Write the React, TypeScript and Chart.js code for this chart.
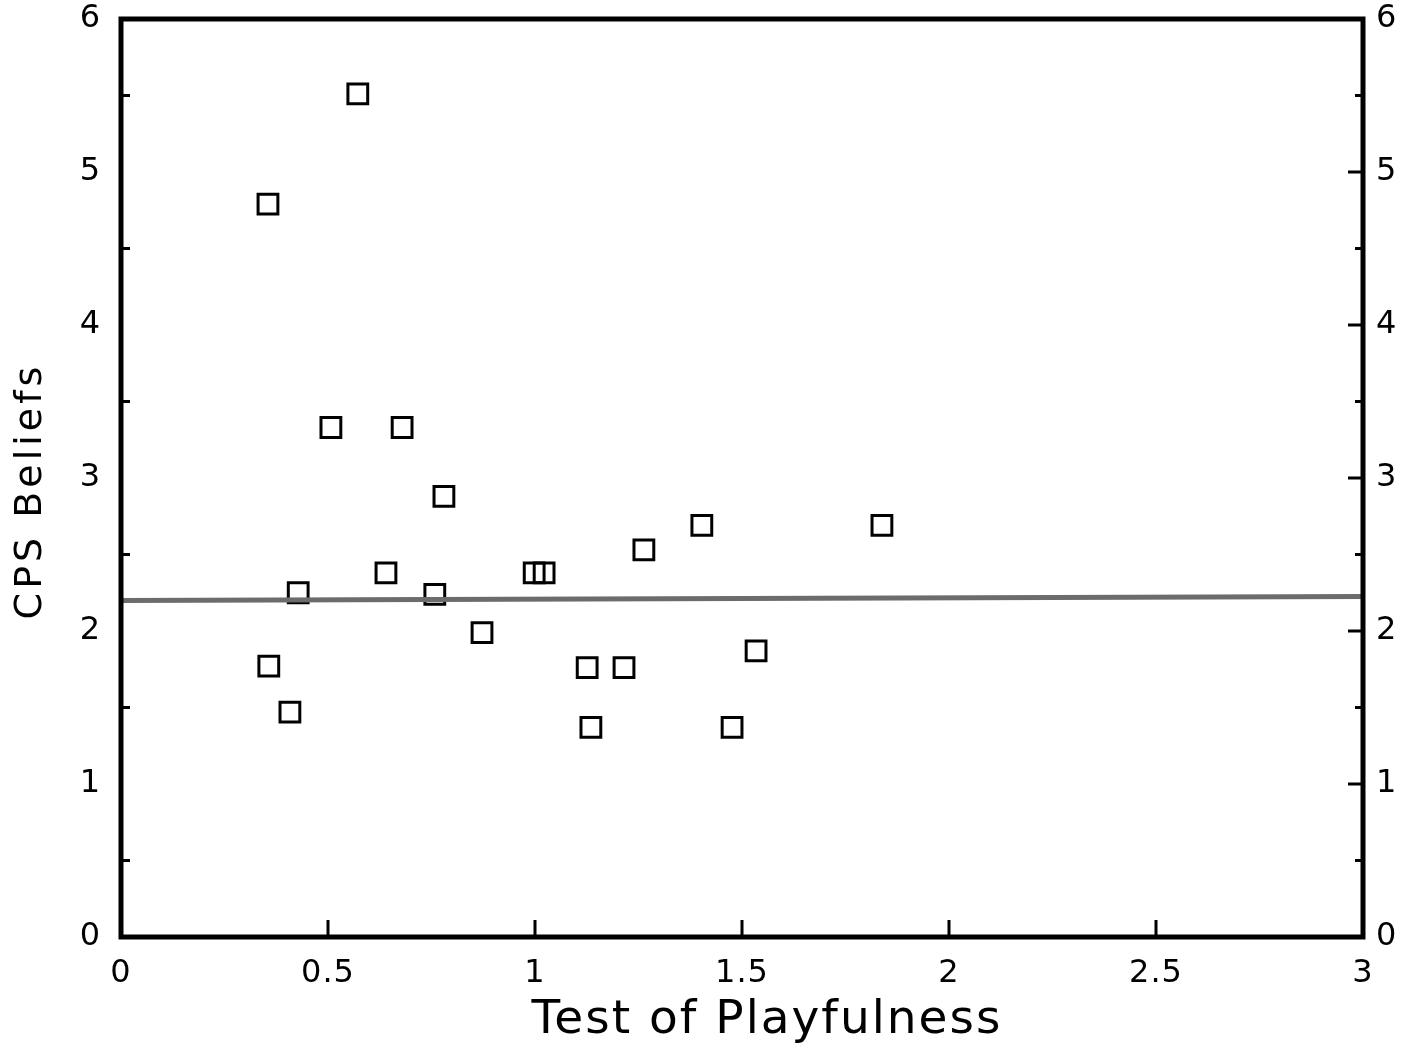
import { useEffect, useRef } from "react";
import { Chart, registerables } from "chart.js";

Chart.register(...registerables);

// Data
const playfulness = [0.355, 0.572, 0.507, 0.679, 0.78, 0.64, 0.428, 0.758, 0.872, 0.357, 0.408, 0.998, 1.022, 1.126, 1.215, 1.135, 1.263, 1.403, 1.476, 1.534, 1.838];
const cpsBeliefs = [4.79, 5.51, 3.33, 3.33, 2.88, 2.38, 2.25, 2.24, 1.99, 1.77, 1.47, 2.38, 2.38, 1.76, 1.76, 1.37, 2.53, 2.69, 1.37, 1.87, 2.69];
const fitX = [0, 3];
const fitY = [2.2, 2.225];
const xTicks = [0, 0.5, 1, 1.5, 2, 2.5, 3];
const yTicks = [0, 1, 2, 3, 4, 5, 6];
const yMinorTicks = [0.5, 1.5, 2.5, 3.5, 4.5, 5.5];
const xTitle = "Test of Playfulness";
const yTitle = "CPS Beliefs";

const FONT = "'DejaVu Sans', 'Liberation Sans', Arial, sans-serif";

const frameTicksPlugin = {
  id: "frameTicks",
  beforeDraw(chart: any) {
    (chart.ctx as any).letterSpacing = "1px";
  },
  afterDraw(chart: any) {
    const ctx = chart.ctx;
    (ctx as any).letterSpacing = "0px";
    const { left, right, top, bottom } = chart.chartArea;
    const xs = chart.scales.x;
    const ys = chart.scales.y;
    ctx.save();
    ctx.strokeStyle = "#000";
    ctx.lineCap = "butt";
    ctx.lineWidth = 3;
    ctx.beginPath();
    for (const v of xTicks) {
      const px = xs.getPixelForValue(v);
      ctx.moveTo(px, bottom);
      ctx.lineTo(px, bottom - 17);
    }
    for (const v of yMinorTicks) {
      const py = ys.getPixelForValue(v);
      ctx.moveTo(left, py);
      ctx.lineTo(left + 9, py);
      ctx.moveTo(right, py);
      ctx.lineTo(right - 8, py);
    }
    for (const v of yTicks) {
      const py = ys.getPixelForValue(v);
      ctx.moveTo(right, py);
      ctx.lineTo(right - 15, py);
    }
    ctx.stroke();
    ctx.lineWidth = 5;
    ctx.strokeRect(left, top, right - left, bottom - top);

    // axis titles
    ctx.fillStyle = "#000";
    ctx.textAlign = "center";
    ctx.textBaseline = "middle";
    (ctx as any).letterSpacing = "2px";
    ctx.font = `47px ${FONT}`;
    ctx.fillText(xTitle, (left + right) / 2 + 25, bottom + 84);
    (ctx as any).letterSpacing = "4px";
    ctx.font = `38px ${FONT}`;
    ctx.translate(left - 90, (top + bottom) / 2 + 13);
    ctx.rotate(-Math.PI / 2);
    ctx.fillText(yTitle, 0, 0);
    (ctx as any).letterSpacing = "0px";
    ctx.restore();
  },
};

function noPad(s: any) {
  s.paddingTop = 0;
  s.paddingBottom = 0;
  s.paddingLeft = 0;
  s.paddingRight = 0;
}

export default function App() {
  const ref = useRef<HTMLCanvasElement | null>(null);

  useEffect(() => {
    if (!ref.current) return;
    const tickFont = { family: FONT, size: 32 };
    const chart = new Chart(ref.current, {
      type: "scatter",
      data: {
        datasets: [
          {
            type: "line",
            data: fitX.map((x, i) => ({ x, y: fitY[i] })),
            borderColor: "#6c6c6c",
            borderWidth: 5,
            pointRadius: 0,
            fill: false,
          } as any,
          {
            type: "scatter",
            data: playfulness.map((x, i) => ({ x, y: cpsBeliefs[i] })),
            pointStyle: "rect",
            pointRadius: 14,
            pointBorderWidth: 3,
            borderColor: "#000",
            backgroundColor: "rgba(0,0,0,0)",
            pointBackgroundColor: "rgba(0,0,0,0)",
            pointBorderColor: "#000",
          } as any,
        ],
      },
      options: {
        animation: false,
        responsive: false,
        maintainAspectRatio: false,
        layout: { padding: { top: 19, left: 0, right: 0, bottom: 0 } },
        plugins: { legend: { display: false }, tooltip: { enabled: false } },
        scales: {
          x: {
            type: "linear",
            position: "bottom",
            min: 0,
            max: 3,
            grid: { display: false, drawTicks: false },
            border: { display: false },
            afterBuildTicks: (s: any) => {
              s.ticks = xTicks.map((v) => ({ value: v }));
            },
            afterFit: (s: any) => {
              s.height = 115;
              noPad(s);
            },
            ticks: {
              font: tickFont,
              color: "#000",
              padding: 17,
              maxRotation: 0,
              callback: (v: any) => String(v),
            },
            title: { display: false, text: xTitle },
          },
          y: {
            type: "linear",
            position: "left",
            min: 0,
            max: 6,
            grid: { display: false, drawTicks: false },
            border: { display: false },
            afterBuildTicks: (s: any) => {
              s.ticks = yTicks.map((v) => ({ value: v }));
            },
            afterFit: (s: any) => {
              s.width = 121;
              noPad(s);
            },
            ticks: {
              font: tickFont,
              color: "#000",
              padding: 20,
              callback: (v: any) => String(v),
            },
            title: { display: false, text: yTitle },
          },
          y2: {
            type: "linear",
            position: "right",
            min: 0,
            max: 6,
            grid: { display: false, drawTicks: false },
            border: { display: false },
            afterBuildTicks: (s: any) => {
              s.ticks = yTicks.map((v) => ({ value: v }));
            },
            afterFit: (s: any) => {
              s.width = 41;
              noPad(s);
            },
            ticks: {
              font: tickFont,
              color: "#000",
              padding: 13,
              callback: (v: any) => String(v),
            },
          },
        },
      },
      plugins: [frameTicksPlugin],
    });
    return () => chart.destroy();
  }, []);

  return (
    <div style={{ position: "absolute", left: 0, top: 0, width: 1404, height: 1052, background: "#fff" }}>
      <canvas ref={ref} width={1404} height={1052} style={{ display: "block" }} />
    </div>
  );
}
